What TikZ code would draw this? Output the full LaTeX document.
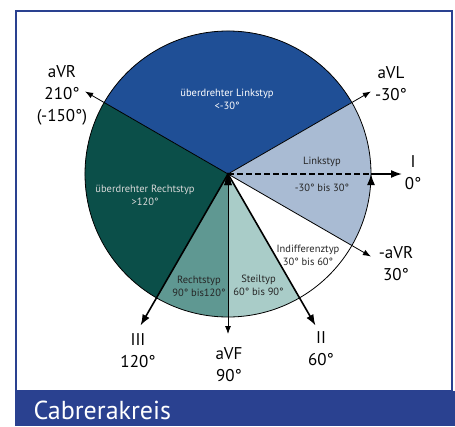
\documentclass[tikz,border=0pt]{standalone}
\usepackage{fontspec}
\setmainfont{PT Sans}
\usetikzlibrary{arrows.meta}
\definecolor{frameblue}{HTML}{2A4190}
\definecolor{linksdark}{HTML}{1F4F96}
\definecolor{linkslight}{HTML}{A9BBD3}
\definecolor{rechtsdark}{HTML}{0B4F49}
\definecolor{rechtsmid}{HTML}{5F9892}
\definecolor{steillight}{HTML}{A9CCC8}
\begin{document}
\begin{tikzpicture}[x=1pt, y=-1pt,
  lead/.style={font=\fontsize{17}{22}\selectfont, align=center},
  zone/.style={font=\fontsize{10.5}{13}\selectfont, align=center, text=black!85},
  thinarrow/.style={-{Latex[length=8pt,width=6pt]}, line width=0.8pt},
  thickarrow/.style={-{Latex[length=11pt,width=8pt]}, line width=1.6pt}]
\useasboundingbox (0,0) rectangle (455,426);
\draw[frameblue, line width=2pt] (16,11) rectangle (452,391);
\fill[frameblue] (15,391) rectangle (455,426);
\node[anchor=west, text=white, font=\fontsize{26}{30}\selectfont] (title) at (30,410) {Cabrerakreis};

\begin{scope}[shift={(228,174)}]
\fill[linksdark] (0,0) -- (-150:143) arc[start angle=-150, end angle=-30, radius=143] -- cycle;
\fill[linkslight] (0,0) -- (-30:143) arc[start angle=-30, end angle=30, radius=143] -- cycle;
\fill[steillight] (0,0) -- (60:143) arc[start angle=60, end angle=90, radius=143] -- cycle;
\fill[rechtsmid] (0,0) -- (90:143) arc[start angle=90, end angle=120, radius=143] -- cycle;
\fill[rechtsdark] (0,0) -- (120:143) arc[start angle=120, end angle=210, radius=143] -- cycle;
\draw[line width=0.8pt] (0,0) circle[radius=143];

\coordinate (v0) at (0,0);
\coordinate (v1) at (-150:165);
\coordinate (v2) at (-30:165);
\coordinate (v3) at (0:143);
\coordinate (v4) at (0:174);
\coordinate (v5) at (30:165);
\coordinate (v6) at (60:175);
\coordinate (v7) at (90:160);
\coordinate (v8) at (120:175);
\end{scope}

\draw[thinarrow] (v0) edge (v1);
\draw[thinarrow] (v0) edge (v2);
\draw[line width=1.6pt, dash pattern=on 6pt off 3pt] (v0) edge (v3);
\draw[thickarrow] (v3) edge (v4);
\draw[thinarrow] (v0) edge (v5);
\draw[thickarrow] (v0) edge (v6);
\draw[thinarrow] (v0) edge (v7);
\draw[thickarrow] (v0) edge (v8);
\fill (v0) circle[radius=1.6];

\node[lead] (l1) at (62,95) {aVR\\210°\\(-150°)};
\node[lead] (l2) at (391,84) {aVL\\-30°};
\node[lead] (l3) at (413,173) {I\\0°};
\node[lead] (l4) at (396,263.5) {-aVR\\30°};
\node[lead] (l5) at (321,348.5) {II\\60°};
\node[lead] (l6) at (229,364.5) {aVF\\90°};
\node[lead] (l7) at (138,350.5) {III\\120°};

\node[zone, text=white] (z1) at (227,99) {überdrehter Linkstyp\\<-30°};
\node[zone] (z2) at (322,162) {Linkstyp};
\node[zone] (z3) at (322,188) {-30° bis 30°};
\node[zone, text=black!15] (z4) at (145,195) {überdrehter Rechtstyp\\>120°};
\node[zone] (z5) at (199,286) {Rechtstyp\\90° bis120°};
\node[zone] (z6) at (258.5,285) {Steiltyp\\60° bis 90°};
\node[zone] (z7) at (308,255.5) {Indifferenztyp\\30° bis 60°};
\end{tikzpicture}
\end{document}
